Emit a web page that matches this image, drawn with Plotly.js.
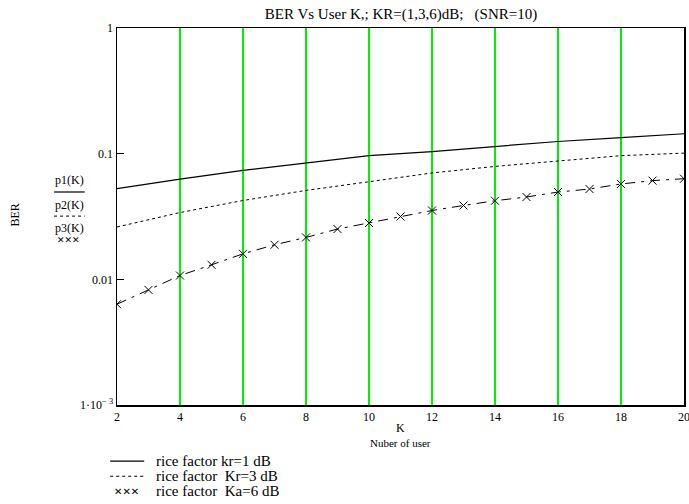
<!DOCTYPE html>
<html>
<head>
<meta charset="utf-8">
<script src="https://cdn.plot.ly/plotly-3.0.1.min.js"></script>
<style>html,body{margin:0;padding:0;background:#fff;}#chart{width:689px;height:504px;}
#chart .gridlayer path{shape-rendering:crispEdges !important;}</style>
</head>
<body>
<div id="chart"></div>
<script>
// Data
const kEven = [2, 4, 6, 8, 10, 12, 14, 16, 18, 20];
const p1 = [0.0526, 0.0628, 0.0736, 0.0843, 0.0964, 0.104, 0.114, 0.125, 0.134, 0.144];
const p2 = [0.0261, 0.0340, 0.0424, 0.0510, 0.0598, 0.0702, 0.0792, 0.0868, 0.0964, 0.101];
const kAll = [2,3,4,5,6,7,8,9,10,11,12,13,14,15,16,17,18,19,20];
const p3 = [0.00634, 0.00824, 0.01072, 0.01305, 0.01596, 0.01883, 0.02155, 0.02512, 0.02805, 0.0316,
            0.0353, 0.0387, 0.0422, 0.0452, 0.0495, 0.0523, 0.0574, 0.0610, 0.0632];
const seriesNames = ['rice factor kr=1 dB', 'rice factor  Kr=3 dB', 'rice factor  Ka=6 dB'];
const xTicks = [2, 4, 6, 8, 10, 12, 14, 16, 18, 20];
const yTickVals = [1, 0.1, 0.01, 0.001];
const yTickText = ['1', '0.1', '0.01', '1\u00B710<sup>\u2212 3</sup>'];

const serif = 'Liberation Serif, Times New Roman, serif';

const traces = [
  {x: kEven, y: p1, mode: 'lines', name: seriesNames[0], line: {color: '#000', width: 1.2}},
  {x: kEven, y: p2, mode: 'lines', name: seriesNames[1], line: {color: '#000', width: 1, dash: '3px,3px'}},
  {x: kAll, y: p3, mode: 'lines+markers', name: seriesNames[2],
   line: {color: '#000', width: 1, dash: '10px,6px,3px,6px'},
   marker: {symbol: 'x-thin-open', size: 8, color: '#000', line: {color: '#000', width: 1}}}
];

// custom legend rows (paper coords)
const legY = [-0.149, -0.189, -0.229];
const legendAnn = seriesNames.map((n, i) => ({
  text: n.replace(/  /g, ' &nbsp;'), xref: 'paper', yref: 'paper', x: 0.065, y: legY[i], xanchor: 'left', yanchor: 'middle',
  showarrow: false, font: {family: serif, size: 15, color: '#000'}
}));

const layout = {
  width: 689, height: 504,
  margin: {l: 117, r: 5, t: 28, b: 99},
  paper_bgcolor: '#fff', plot_bgcolor: '#fff',
  font: {family: serif, size: 12, color: '#000'},
  title: {text: 'BER Vs User K,; KR=(1,3,6)dB;   (SNR=10)', font: {family: serif, size: 15, color: '#000'},
          x: 0.582, xanchor: 'center', y: 0.972, yanchor: 'middle'},
  showlegend: false,
  xaxis: {range: [2, 20], tickvals: xTicks, ticks: '', showgrid: true, gridcolor: '#00f000', gridwidth: 1.3,
          showline: true, linecolor: '#000', linewidth: 1.5, mirror: true, zeroline: false,
          ticklabeloverflow: 'allow',
          tickfont: {family: serif, size: 12, color: '#000'}},
  yaxis: {type: 'log', range: [-3, 0], tickvals: yTickVals, ticktext: yTickText, ticks: 'inside', ticklen: 7,
          tickcolor: '#000', showgrid: false, showline: true, linecolor: '#000', linewidth: 1.5, mirror: true,
          zeroline: false, tickfont: {family: serif, size: 12, color: '#000'}},
  annotations: [
    {text: 'K', xref: 'paper', yref: 'paper', x: 0.5, y: -0.062, xanchor: 'center', yanchor: 'middle', showarrow: false,
     font: {family: serif, size: 12}},
    {text: 'Nuber of user', xref: 'paper', yref: 'paper', x: 0.5, y: -0.1, xanchor: 'center', yanchor: 'middle', showarrow: false,
     font: {family: serif, size: 11}},
    {text: 'BER', xref: 'paper', yref: 'paper', x: -0.18, y: 0.505, xanchor: 'center', yanchor: 'middle', showarrow: false,
     textangle: -90, font: {family: serif, size: 12}},
    {text: 'p1(K)', xref: 'paper', yref: 'paper', x: -0.083, y: 0.597, xanchor: 'center', yanchor: 'middle', showarrow: false,
     font: {family: serif, size: 12}},
    {text: 'p2(K)', xref: 'paper', yref: 'paper', x: -0.083, y: 0.531, xanchor: 'center', yanchor: 'middle', showarrow: false,
     font: {family: serif, size: 12}},
    {text: 'p3(K)', xref: 'paper', yref: 'paper', x: -0.083, y: 0.469, xanchor: 'center', yanchor: 'middle', showarrow: false,
     font: {family: serif, size: 12}},
    {text: '\u2715\u2715\u2715', xref: 'paper', yref: 'paper', x: -0.085, y: 0.438, xanchor: 'center', yanchor: 'middle', showarrow: false,
     font: {family: 'DejaVu Sans', size: 9}},
    {text: '\u2715\u2715\u2715', xref: 'paper', yref: 'paper', x: 0.017, y: legY[2], xanchor: 'center', yanchor: 'middle', showarrow: false,
     font: {family: 'DejaVu Sans', size: 10}}
  ].concat(legendAnn),
  shapes: [
    {type: 'line', xref: 'paper', yref: 'paper', x0: -0.111, x1: -0.057, y0: 0.565, y1: 0.565,
     line: {color: '#000', width: 1.2}},
    {type: 'line', xref: 'paper', yref: 'paper', x0: -0.111, x1: -0.057, y0: 0.501, y1: 0.501,
     line: {color: '#000', width: 1, dash: '3px,3px'}},
    {type: 'line', xref: 'paper', yref: 'paper', x0: -0.012, x1: 0.048, y0: legY[0], y1: legY[0],
     line: {color: '#000', width: 1.2}},
    {type: 'line', xref: 'paper', yref: 'paper', x0: -0.012, x1: 0.048, y0: legY[1], y1: legY[1],
     line: {color: '#000', width: 1, dash: '3px,3px'}}
  ]
};

Plotly.newPlot('chart', traces, layout, {displayModeBar: false, staticPlot: true});
</script>
</body>
</html>
